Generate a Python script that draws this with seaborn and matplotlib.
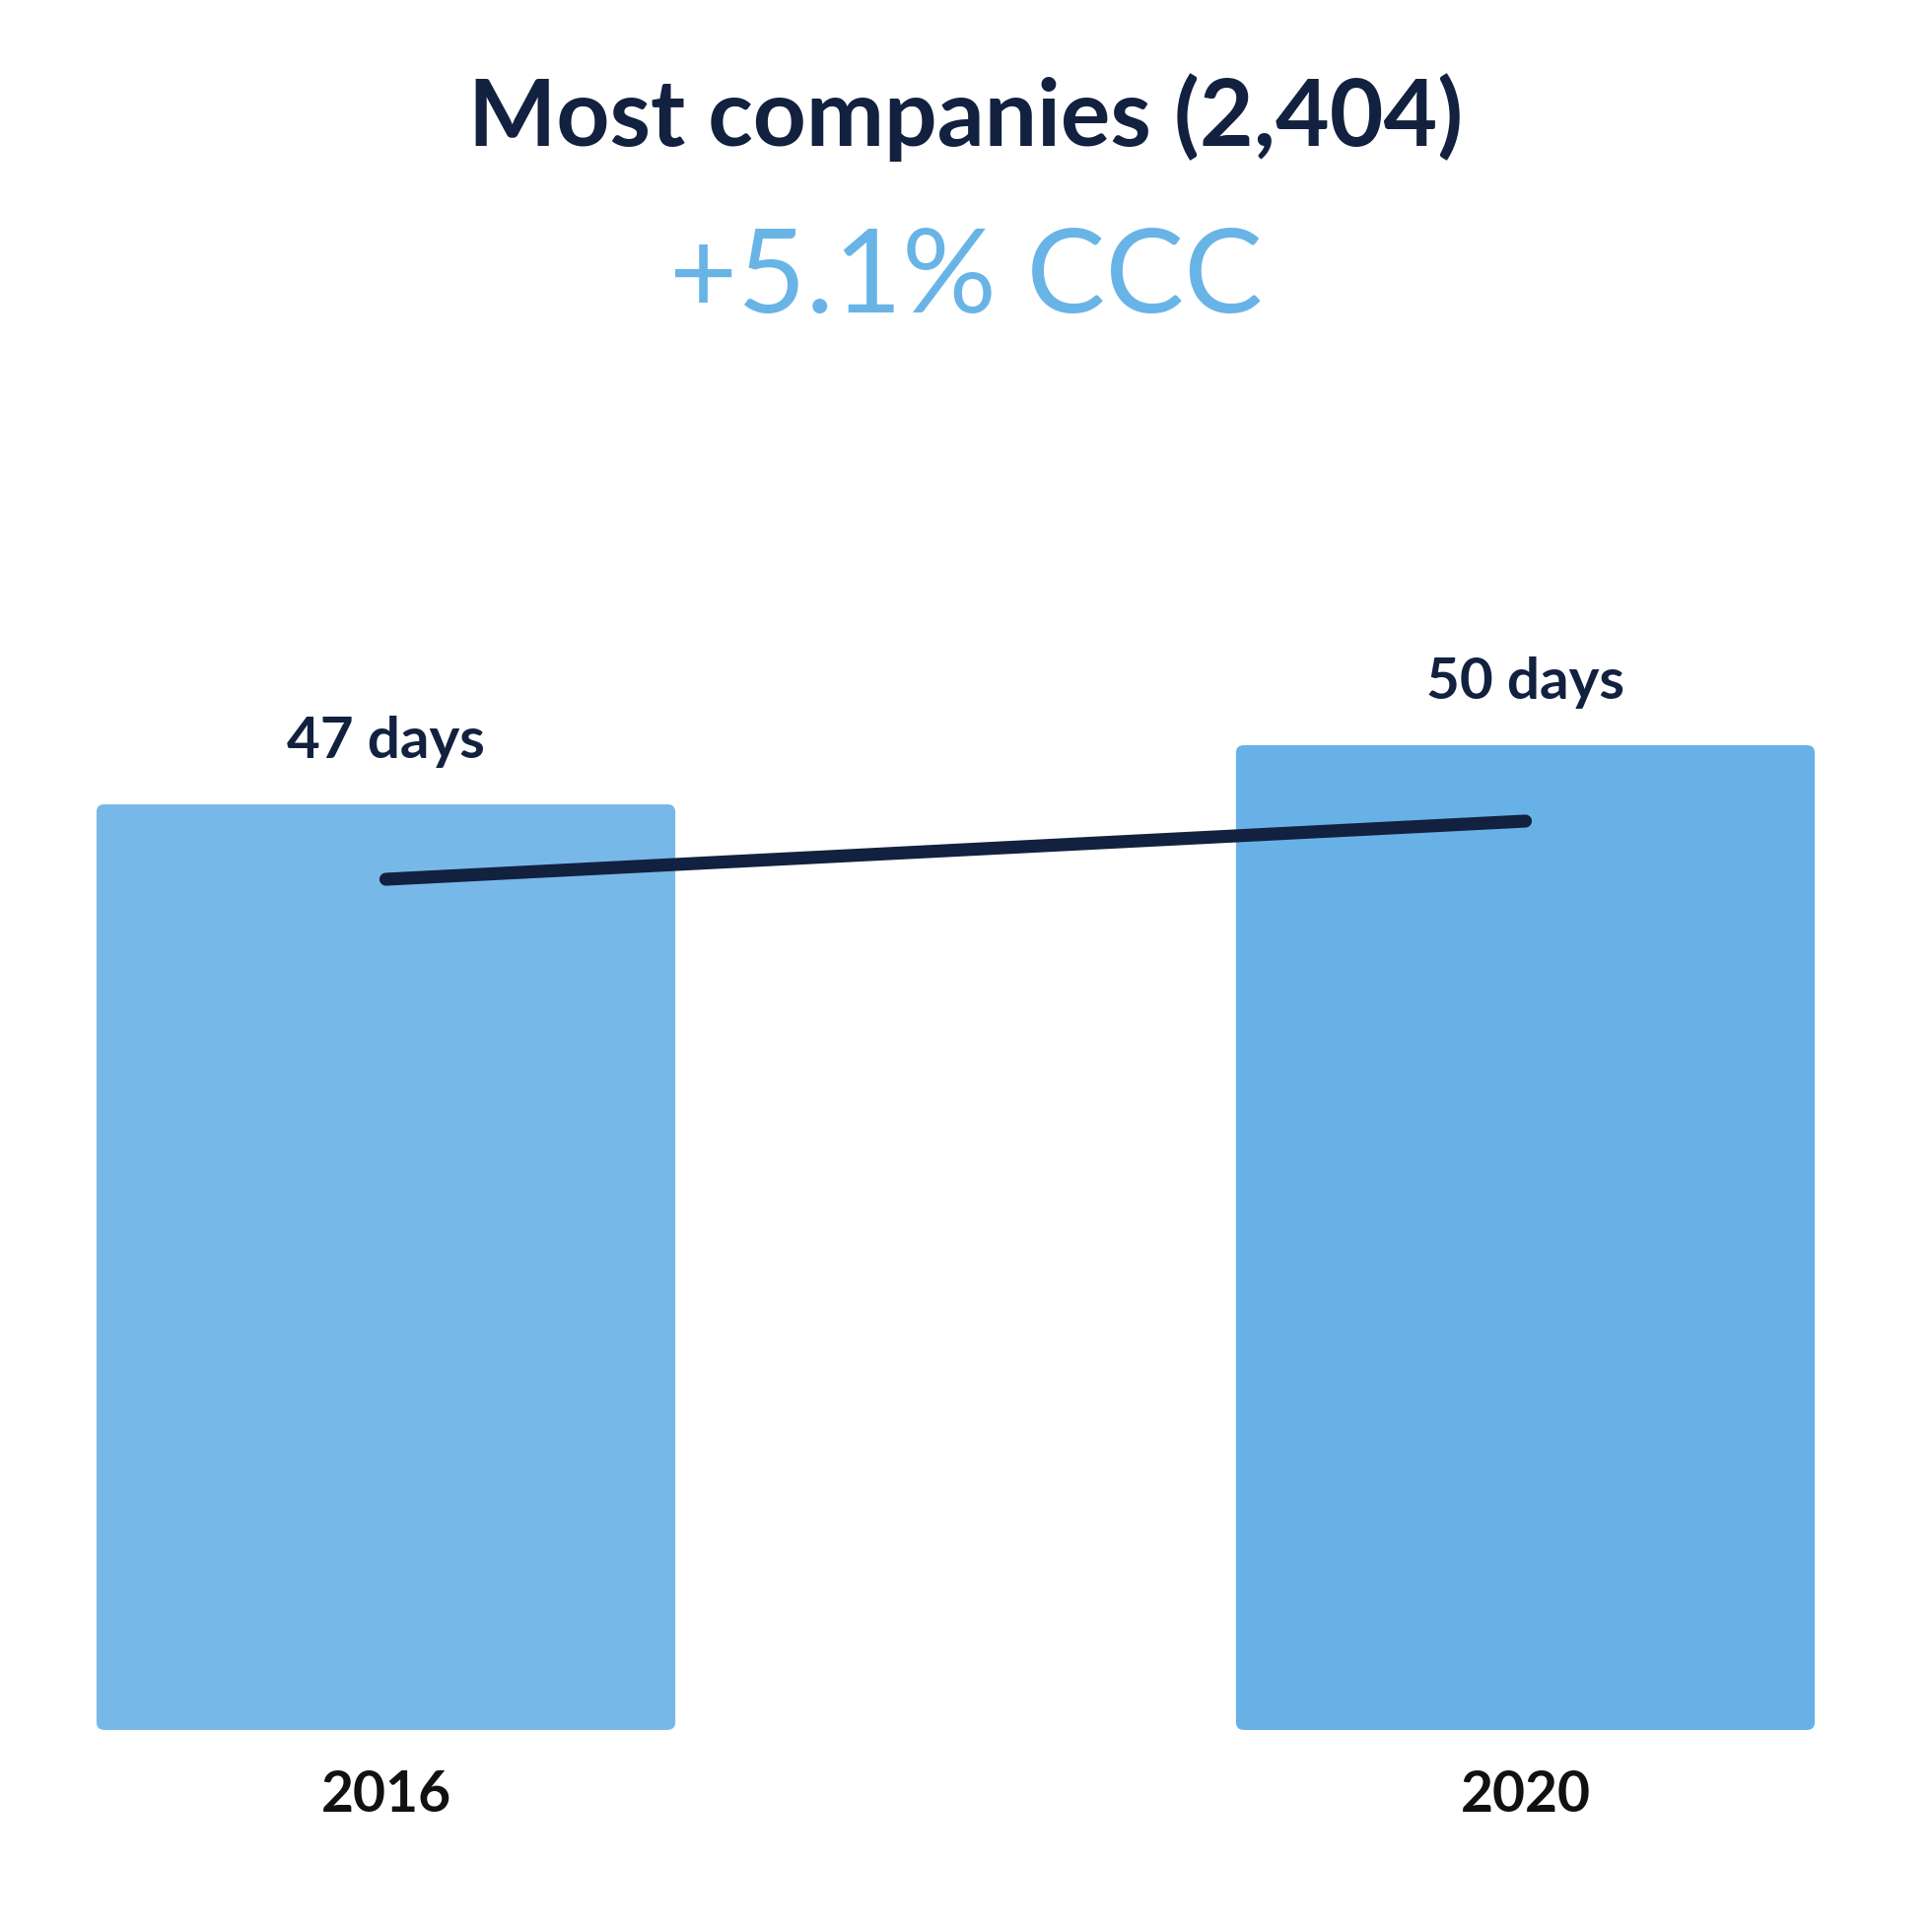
import matplotlib
matplotlib.use("Agg")
import matplotlib.pyplot as plt
import seaborn as sns
import pandas as pd
from matplotlib.patches import FancyBboxPatch

# data
years = ["2016", "2020"]
ccc_days = [47, 50]
bar_labels = ["47 days", "50 days"]
title = "Most companies (2,404)"
subtitle = "+5.1% CCC"

navy = "#12213f"
bar_colors = ["#78b8e9", "#68b1e7"]
accent = "#69b4e6"

sns.set_theme(style="white")
plt.rcParams["font.family"] = ["Lato", "DejaVu Sans"]

df = pd.DataFrame({"year": years, "days": ccc_days})

fig = plt.figure(figsize=(19.6, 19.6), dpi=100)
ax = fig.add_axes([0, 205 / 1960, 1, 1455 / 1960])

sns.barplot(data=df, x="year", y="days", hue="year", palette=bar_colors,
            width=0.508, legend=False, ax=ax, saturation=1)

ax.set_xlim(-391.5 / 1156, (1960 - 391.5) / 1156)
ax.set_ylim(0, 1455 / 19.98)

# swap plain bars for rounded ones
for p in list(ax.patches):
    x, y = p.get_x(), p.get_y()
    w, h = p.get_width(), p.get_height()
    fc = p.get_facecolor()
    p.remove()
    rb = FancyBboxPatch((x, y), w, h,
                        boxstyle="round,pad=0,rounding_size=0.0069",
                        mutation_aspect=57.8, facecolor=fc, edgecolor="none")
    ax.add_patch(rb)

# value labels above bars
for i, (v, lab) in enumerate(zip(ccc_days, bar_labels)):
    ax.annotate(lab, xy=(i, v), xytext=(0, 34), textcoords="offset points",
                ha="center", va="baseline", fontsize=42, fontweight="bold",
                color=navy)

# trend line on its own scale
ax2 = ax.twinx()
sns.lineplot(x=[0, 1], y=ccc_days, ax=ax2, color=navy, linewidth=9.5,
             solid_capstyle="round")
ax2.set_ylim(47 - (1755 - 892) / 19.67, 47 + (892 - 300) / 19.67)
ax2.axis("off")

ax.set_xlabel("")
ax.set_ylabel("")
ax.set_yticks([])
ax.tick_params(axis="x", length=0, pad=29)
for t in ax.get_xticklabels():
    t.set_fontsize(41)
    t.set_fontweight("bold")
    t.set_color("#111111")
sns.despine(ax=ax, left=True, bottom=True)

fig.text(0.5, 1 - 119 / 1960, title, ha="center", va="center",
         fontsize=68, fontweight="bold", color=navy)
fig.text(0.5, 1 - 284 / 1960, subtitle, ha="center", va="center",
         fontsize=86, color=accent)

fig.savefig("out.png", dpi=100, facecolor="white")
